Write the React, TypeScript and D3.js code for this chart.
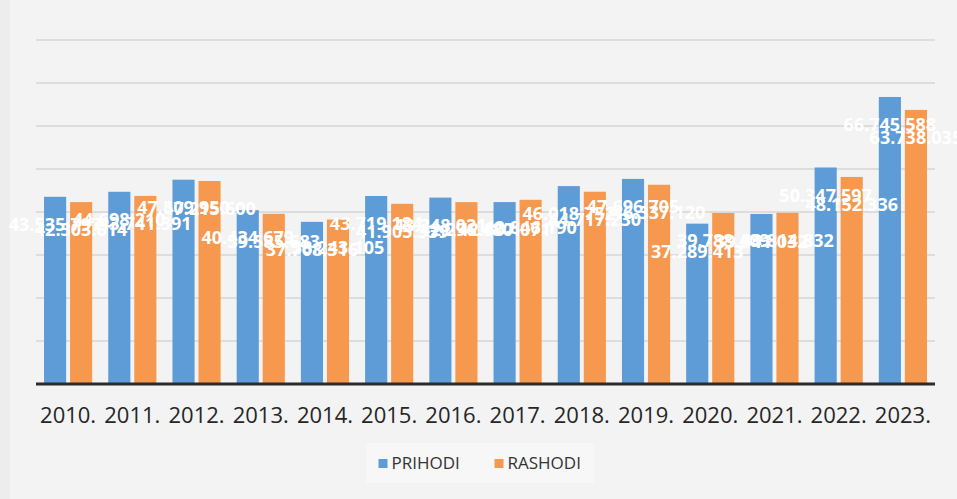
import React, { useEffect, useRef } from 'react';
import * as d3 from 'd3';

const years = ['2010.', '2011.', '2012.', '2013.', '2014.', '2015.', '2016.', '2017.', '2018.', '2019.', '2020.', '2021.', '2022.', '2023.'];
const prihodi = [43535797, 44698210, 47509950, 40434679, 37708316, 43719184, 43348021, 42307071, 46018752, 47696705, 37289413, 39541032, 50347597, 66745588];
const rashodi = [42303614, 43741391, 47215600, 39585683, 38243105, 41905339, 42296480, 42846190, 44717230, 46337120, 39788409, 39814832, 48152336, 63738035];
const seriesNames = ['PRIHODI', 'RASHODI'];
const yTicks = [0, 10000000, 20000000, 30000000, 40000000, 50000000, 60000000, 70000000, 80000000];

const colors = ['#5d9cd6', '#f6994f'];

const W = 957;
const H = 499;

export default function App() {
  const ref = useRef<SVGSVGElement>(null);

  useEffect(() => {
    document.body.style.margin = '0';
    const svg = d3.select(ref.current);
    svg.selectAll('*').remove();

    const margin = { top: 40, right: 22, bottom: 115, left: 36 };
    const fmt = d3.formatLocale({ decimal: ',', thousands: '.', grouping: [3], currency: ['', ''] }).format(',d');

    // photo-like background
    svg.append('rect').attr('width', W).attr('height', H).attr('fill', '#ededed');
    svg.append('rect').attr('x', 10).attr('width', W - 10).attr('height', H).attr('fill', '#f3f3f3');

    const x = d3.scaleBand<string>()
      .domain(years)
      .range([margin.left, W - margin.right])
      .paddingInner(0.25)
      .paddingOuter(0.125);

    const xs = d3.scaleBand<string>()
      .domain(seriesNames)
      .range([0, x.bandwidth()])
      .paddingInner(0.15);

    const y = d3.scaleLinear()
      .domain([0, 80000000])
      .range([H - margin.bottom, margin.top]);

    // gridlines
    svg.append('g')
      .selectAll('line')
      .data(yTicks.slice(1))
      .join('line')
      .attr('x1', margin.left)
      .attr('x2', W - margin.right)
      .attr('y1', d => y(d))
      .attr('y2', d => y(d))
      .attr('stroke', '#d6d6d6')
      .attr('stroke-width', 1.5);

    const series = [prihodi, rashodi];

    series.forEach((vals, si) => {
      svg.append('g')
        .selectAll('rect')
        .data(vals)
        .join('rect')
        .attr('x', (d, i) => x(years[i])! + xs(seriesNames[si])!)
        .attr('y', d => y(d))
        .attr('width', xs.bandwidth())
        .attr('height', d => y(0) - y(d))
        .attr('fill', colors[si]);
    });

    // baseline
    svg.append('line')
      .attr('x1', margin.left)
      .attr('x2', W - margin.right)
      .attr('y1', y(0))
      .attr('y2', y(0))
      .attr('stroke', '#2b2b2b')
      .attr('stroke-width', 3);

    // data labels
    series.forEach((vals, si) => {
      svg.append('g')
        .selectAll('text')
        .data(vals)
        .join('text')
        .attr('x', (d, i) => x(years[i])! + xs(seriesNames[si])! + xs.bandwidth() / 2)
        .attr('y', d => y(d) + 34)
        .attr('text-anchor', 'middle')
        .attr('font-family', 'Open Sans, sans-serif')
        .attr('font-weight', 'bold')
        .attr('font-size', 18)
        .attr('fill', '#ffffff')
        .text(d => fmt(d));
    });

    // x axis labels
    svg.append('g')
      .selectAll('text')
      .data(years)
      .join('text')
      .attr('x', d => x(d)! + x.bandwidth() / 2)
      .attr('y', H - margin.bottom + 39)
      .attr('text-anchor', 'middle')
      .attr('font-family', 'Liberation Sans Narrow, Open Sans, sans-serif')
      .attr('font-size', 22)
      .attr('fill', '#262626')
      .text(d => d);

    // legend
    const legend = svg.append('g').attr('transform', `translate(${W / 2},465)`);
    legend.append('rect').attr('x', -112).attr('y', -22).attr('width', 228).attr('height', 40).attr('fill', '#f7f7f7');
    const items = [{ name: seriesNames[0], dx: -100 }, { name: seriesNames[1], dx: 16 }];
    items.forEach((it, i) => {
      legend.append('rect')
        .attr('x', it.dx)
        .attr('y', -6)
        .attr('width', 9)
        .attr('height', 9)
        .attr('fill', colors[i]);
      legend.append('text')
        .attr('x', it.dx + 13)
        .attr('y', 4)
        .attr('font-family', 'Liberation Sans Narrow, Open Sans, sans-serif')
        .attr('font-size', 17)
        .attr('fill', '#333')
        .text(it.name);
    });
  }, []);

  return (
    <div>
      <svg ref={ref} width={W} height={H}></svg>
    </div>
  );
}
